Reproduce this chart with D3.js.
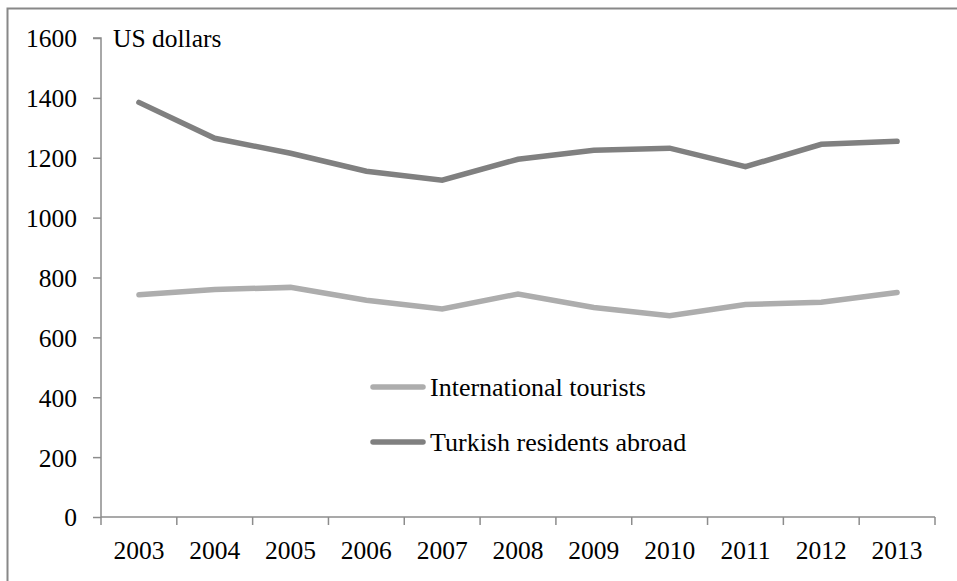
<!DOCTYPE html>
<html><head><meta charset="utf-8">
<script src="https://cdn.jsdelivr.net/npm/d3@7/dist/d3.min.js"></script>
<style>body{margin:0;background:#fff}svg{display:block}</style>
</head><body>
<svg id="c" width="957" height="581"></svg>
<script>
const years = ["2003","2004","2005","2006","2007","2008","2009","2010","2011","2012","2013"];
const intlTourists = [742,760,767,724,695,745,700,672,710,717,750];
const turkishAbroad = [1385,1265,1215,1155,1125,1195,1225,1232,1170,1245,1255];
const yTicks = [0,200,400,600,800,1000,1200,1400,1600];
const seriesNames = ["International tourists","Turkish residents abroad"];
const seriesColors = ["#adadad","#808080"];

(function(){
const svg = d3.select("#c");
const font = "'Liberation Serif','Times New Roman',serif";
const axisColor = "#8c8c8c";

// outer frame
svg.append("rect").attr("x",7.5).attr("y",8.5).attr("width",1000).attr("height",1000)
  .attr("fill","none").attr("stroke","#888").attr("stroke-width",2);

const pL = 101, pR = 935, pT = 38, pB = 517;
const x = d3.scaleBand().domain(years).range([pL,pR]);
const y = d3.scaleLinear().domain([0,1600]).range([pB,pT]);

// y axis
const yAxis = svg.append("g").attr("transform",`translate(${pL},0)`)
  .call(d3.axisLeft(y).tickValues(yTicks).tickSize(8).tickPadding(16).tickFormat(d3.format("d")));
yAxis.select(".domain").attr("stroke",axisColor).attr("stroke-width",1.5).attr("d",`M-8,${pT}H0V${pB}`);
yAxis.selectAll(".tick line").attr("stroke",axisColor).attr("stroke-width",1.5);
yAxis.selectAll(".tick text").attr("font-family",font).attr("font-size","25.5px").attr("fill","#000").attr("dy","0.35em");

// x axis
const xAxis = svg.append("g").attr("transform",`translate(0,${pB})`)
  .call(d3.axisBottom(x).tickSize(0).tickPadding(24));
xAxis.select(".domain").attr("stroke",axisColor).attr("stroke-width",1.5).attr("d",`M${pL},0H${pR}`);
xAxis.selectAll(".tick text").attr("font-family",font).attr("font-size","25.5px").attr("fill","#000");
// boundary ticks
const bounds = years.map(d=>x(d)).concat([pR]);
svg.append("g").selectAll("line").data(bounds).join("line")
  .attr("x1",d=>d).attr("x2",d=>d).attr("y1",pB).attr("y2",pB+8)
  .attr("stroke",axisColor).attr("stroke-width",1.5);

// unit label
svg.append("text").attr("x",113).attr("y",47).attr("font-family",font).attr("font-size","25.5px").text("US dollars");

// lines
const line = d3.line().x((d,i)=>x(years[i])+x.bandwidth()/2).y(d=>y(d));
[intlTourists, turkishAbroad].forEach((s,i)=>{
  svg.append("path").datum(s).attr("d",line).attr("fill","none")
    .attr("stroke",seriesColors[i]).attr("stroke-width",5.5)
    .attr("stroke-linecap","round").attr("stroke-linejoin","miter");
});

// legend
const legY = [387, 442];
seriesNames.forEach((n,i)=>{
  svg.append("line").attr("x1",373).attr("x2",423).attr("y1",legY[i]).attr("y2",legY[i])
    .attr("stroke",seriesColors[i]).attr("stroke-width",5.5).attr("stroke-linecap","round");
  svg.append("text").attr("x",430).attr("y",legY[i]).attr("dy","0.35em")
    .attr("font-family",font).attr("font-size","26px").text(n);
});
})();
</script>
</body></html>
